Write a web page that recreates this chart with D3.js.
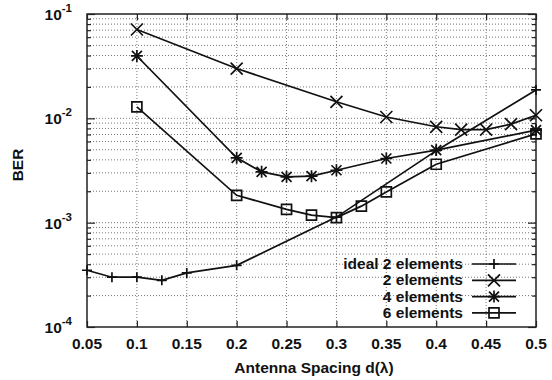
<!DOCTYPE html>
<html>
<head>
<meta charset="utf-8">
<script src="https://cdn.jsdelivr.net/npm/d3@7"></script>
<style>
  body { margin: 0; background: #fff; }
  text { font-family: "Liberation Sans", Arial, sans-serif; font-weight: bold; fill: #111; }
</style>
</head>
<body>
<div id="graph"></div>
<script>
// データ
var xTicks = [0.05, 0.1, 0.15, 0.2, 0.25, 0.3, 0.35, 0.4, 0.45, 0.5];
var yDecades = [-4, -3, -2, -1];

var idealX = [0.05, 0.075, 0.1, 0.125, 0.15, 0.2, 0.3, 0.4, 0.5];
var idealY = [3.5e-4, 3.0e-4, 3.0e-4, 2.8e-4, 3.3e-4, 3.9e-4, 1.13e-3, 4.9e-3, 1.87e-2];

var el2X = [0.1, 0.2, 0.3, 0.35, 0.4, 0.425, 0.45, 0.475, 0.5];
var el2Y = [7.1e-2, 3.0e-2, 1.44e-2, 1.03e-2, 8.3e-3, 7.8e-3, 7.8e-3, 8.8e-3, 1.07e-2];

var el4X = [0.1, 0.2, 0.225, 0.25, 0.275, 0.3, 0.35, 0.4, 0.5];
var el4Y = [3.96e-2, 4.18e-3, 3.07e-3, 2.75e-3, 2.79e-3, 3.18e-3, 4.12e-3, 4.96e-3, 7.7e-3];

var el6X = [0.1, 0.2, 0.25, 0.275, 0.3, 0.325, 0.35, 0.4, 0.5];
var el6Y = [1.29e-2, 1.83e-3, 1.34e-3, 1.18e-3, 1.12e-3, 1.44e-3, 1.97e-3, 3.63e-3, 7.1e-3];

var seriesNames = ["ideal 2 elements", "2 elements", "4 elements", "6 elements"];
var seriesMarks = ["plus", "cross", "star", "square"];

var width = 552, height = 380;
var margin = { top: 14, left: 87, bottom: 53, right: 16 };
var chartWidth = width - margin.left - margin.right;
var chartHeight = height - margin.top - margin.bottom;

var svg = d3.select("#graph").append("svg")
  .attr("width", width).attr("height", height);
var chart = svg.append("g")
  .attr("transform", "translate(" + [margin.left, margin.top] + ")");

var xScale = d3.scaleLinear().domain([0.05, 0.5]).range([0, chartWidth]);
var yScale = d3.scaleLog().domain([1e-4, 1e-1]).range([chartHeight, 0]);

// 小目盛り (2..9 × 10^n)
var minorY = [];
yDecades.slice(0, 3).forEach(function(e) {
  for (var k = 2; k <= 9; k++) minorY.push(k * Math.pow(10, e));
});
var majorY = yDecades.map(function(e) { return Math.pow(10, e); });

// グリッド
var grid = chart.append("g").attr("stroke", "#777").attr("stroke-width", 1)
  .attr("stroke-dasharray", "1,2");
grid.selectAll(".gx").data(xTicks.slice(1, -1)).enter().append("line")
  .attr("x1", function(d) { return xScale(d); }).attr("x2", function(d) { return xScale(d); })
  .attr("y1", 0).attr("y2", chartHeight);
grid.selectAll(".gy").data(minorY.concat(majorY.slice(1, 3))).enter().append("line")
  .attr("y1", function(d) { return yScale(d); }).attr("y2", function(d) { return yScale(d); })
  .attr("x1", 0).attr("x2", chartWidth);

// 軸 (内向き目盛り)
chart.append("g").attr("transform", "translate(0," + chartHeight + ")")
  .call(d3.axisBottom(xScale).tickValues(xTicks).tickSize(-6).tickFormat(""));
chart.append("g")
  .call(d3.axisTop(xScale).tickValues(xTicks).tickSize(-6).tickFormat(""));
chart.append("g").call(d3.axisLeft(yScale).tickValues(majorY).tickSize(-8).tickFormat(""));
chart.append("g").call(d3.axisLeft(yScale).tickValues(minorY).tickSize(-4).tickFormat(""));
chart.append("g").attr("transform", "translate(" + chartWidth + ",0)")
  .call(d3.axisRight(yScale).tickValues(majorY).tickSize(-8).tickFormat(""));
chart.append("g").attr("transform", "translate(" + chartWidth + ",0)")
  .call(d3.axisRight(yScale).tickValues(minorY).tickSize(-4).tickFormat(""));
chart.selectAll(".domain").remove();
chart.selectAll(".tick line").attr("stroke", "#222").attr("stroke-width", 1.2);

chart.append("rect").attr("width", chartWidth).attr("height", chartHeight)
  .attr("fill", "none").attr("stroke", "#222").attr("stroke-width", 1.5);

// 目盛りラベル
chart.selectAll(".xl").data(xTicks).enter().append("text")
  .attr("x", function(d) { return xScale(d); })
  .attr("y", chartHeight + 22)
  .attr("text-anchor", "middle").attr("font-size", 15.5)
  .text(function(d) { return d; });

var yl = chart.selectAll(".yl").data(yDecades).enter().append("text")
  .attr("x", -15).attr("y", function(d) { return yScale(Math.pow(10, d)) + 6; })
  .attr("text-anchor", "end").attr("font-size", 15.5);
yl.append("tspan").text("10");
yl.append("tspan").attr("dy", -8).attr("font-size", 11.5).text(function(d) { return d; });

// 軸タイトル
svg.append("text").attr("x", 314).attr("y", 373)
  .attr("text-anchor", "middle").attr("font-size", 15.5).text("Antenna Spacing d(λ)");
svg.append("text").attr("transform", "translate(23,165) rotate(-90)")
  .attr("text-anchor", "middle").attr("font-size", 15.5).text("BER");

// マーカー描画
function drawMark(g, type, cx, cy) {
  var path = d3.path();
  if (type === "plus") {
    path.moveTo(cx - 5, cy); path.lineTo(cx + 5, cy);
    path.moveTo(cx, cy - 5); path.lineTo(cx, cy + 5);
  } else if (type === "cross") {
    path.moveTo(cx - 6, cy - 6); path.lineTo(cx + 6, cy + 6);
    path.moveTo(cx - 6, cy + 6); path.lineTo(cx + 6, cy - 6);
  } else if (type === "star") {
    path.moveTo(cx - 6, cy); path.lineTo(cx + 6, cy);
    path.moveTo(cx, cy - 6); path.lineTo(cx, cy + 6);
    path.moveTo(cx - 5, cy - 5); path.lineTo(cx + 5, cy + 5);
    path.moveTo(cx - 5, cy + 5); path.lineTo(cx + 5, cy - 5);
  } else {
    path.rect(cx - 5, cy - 5, 10, 10);
  }
  g.append("path").attr("d", path.toString()).attr("fill", "none")
    .attr("stroke", "#111").attr("stroke-width", 1.7);
}

var line = d3.line()
  .x(function(d) { return xScale(d[0]); })
  .y(function(d) { return yScale(d[1]); });

var allSeries = [[idealX, idealY], [el2X, el2Y], [el4X, el4Y], [el6X, el6Y]];
var plot = chart.append("g");
allSeries.forEach(function(s, i) {
  var pts = d3.zip(s[0], s[1]);
  plot.append("path").datum(pts).attr("d", line)
    .attr("fill", "none").attr("stroke", "#111").attr("stroke-width", 1.7);
  pts.forEach(function(p) { drawMark(plot, seriesMarks[i], xScale(p[0]), yScale(p[1])); });
});

// 凡例
var legend = svg.append("g");
seriesNames.forEach(function(name, i) {
  var ly = 264 + i * 16.3;
  legend.append("text").attr("x", 463).attr("y", ly + 5)
    .attr("text-anchor", "end").attr("font-size", 15.5).text(name);
  legend.append("line").attr("x1", 472).attr("x2", 516).attr("y1", ly).attr("y2", ly)
    .attr("stroke", "#111").attr("stroke-width", 1.7);
  drawMark(legend, seriesMarks[i], 494, ly);
});
</script>
</body>
</html>
